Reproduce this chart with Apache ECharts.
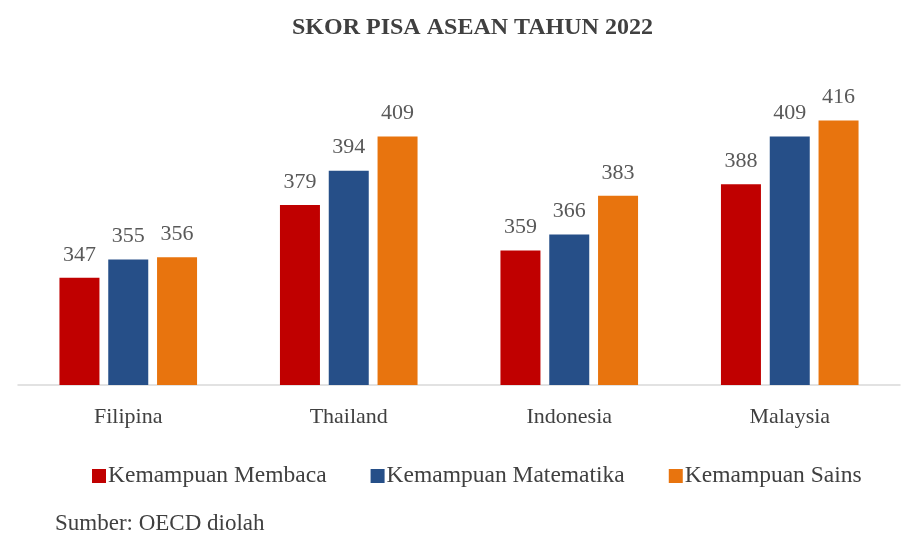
<!DOCTYPE html>
<html>
<head>
<meta charset="utf-8">
<script src="https://cdn.jsdelivr.net/npm/echarts@6/dist/echarts.min.js"></script>
<style>
html,body{margin:0;padding:0;background:#fff;}
#c{width:906px;height:543px;}
</style>
</head>
<body>
<div id="c"></div>
<script>
const categories = ['Filipina', 'Thailand', 'Indonesia', 'Malaysia'];
const membaca = [347, 379, 359, 388];
const matematika = [355, 394, 366, 409];
const sains = [356, 409, 383, 416];
const seriesNames = ['Kemampuan Membaca', 'Kemampuan Matematika', 'Kemampuan Sains'];
const titleText = 'SKOR PISA ASEAN TAHUN 2022';
const sourceText = 'Sumber: OECD diolah';

const FONT = '"Liberation Serif", "DejaVu Serif", serif';
const colors = ['#C00000', '#264F88', '#E8740E'];

const chart = echarts.init(document.getElementById('c'));
function mk(name, data, color) {
  return {
    name: name,
    type: 'bar',
    data: data,
    barWidth: 40,
    barGap: '22%',
    itemStyle: { color: color },
    label: {
      show: true,
      position: 'top',
      distance: 12,
      color: '#595959',
      fontFamily: FONT,
      fontSize: 22
    },
    emphasis: { disabled: true }
  };
}
chart.setOption({
  animation: false,
  backgroundColor: '#ffffff',
  grid: { left: 18, right: 6, top: 43, bottom: 158, containLabel: false },
  xAxis: {
    type: 'category',
    data: categories,
    axisLine: { show: true, lineStyle: { color: '#D9D9D9', width: 1.5 } },
    axisTick: { show: false },
    axisLabel: { color: '#404040', fontFamily: FONT, fontSize: 22, margin: 21 }
  },
  yAxis: {
    type: 'value',
    min: 300,
    max: 450,
    show: false,
    splitLine: { show: false }
  },
  legend: {
    left: 87,
    top: 459,
    icon: 'rect',
    itemWidth: 14,
    itemHeight: 14,
    itemGap: 44,
    textStyle: { color: '#404040', fontFamily: FONT, fontSize: 23.5, padding: [0, 0, 0, -3] },
    data: seriesNames
  },
  graphic: [
    {
      type: 'text',
      left: 292,
      top: 16,
      style: { text: titleText, fill: '#404040', font: 'bold 24px ' + FONT }
    },
    {
      type: 'text',
      left: 55,
      top: 512,
      style: { text: sourceText, fill: '#404040', font: '23px ' + FONT }
    }
  ],
  series: [
    mk(seriesNames[0], membaca, colors[0]),
    mk(seriesNames[1], matematika, colors[1]),
    mk(seriesNames[2], sains, colors[2])
  ]
});
</script>
</body>
</html>
